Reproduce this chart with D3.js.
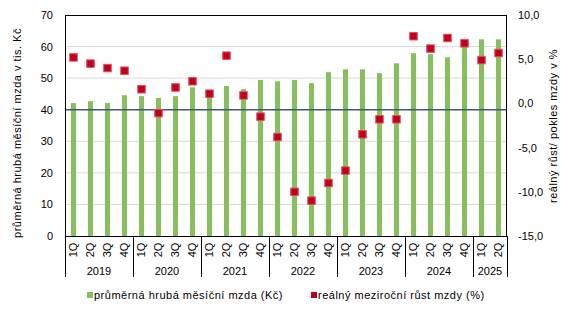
<!DOCTYPE html>
<html>
<head>
<meta charset="utf-8">
<script src="https://cdn.jsdelivr.net/npm/d3@7"></script>
<style>
  body { margin: 0; background: #fff; }
  svg { display: block; font-family: "Liberation Sans", Arial, sans-serif; }
</style>
</head>
<body>
<div id="chart"></div>
<script>
// data
const years = ["2019", "2020", "2021", "2022", "2023", "2024", "2025"]
const quarters = ["1Q", "2Q", "3Q", "4Q"]
const quarterCount = [4, 4, 4, 4, 4, 4, 2]
const wage = [42.1, 42.7, 42.1, 44.6, 44.3, 43.7, 44.3, 47.1, 44.0, 47.5, 46.5, 49.4,
  49.0, 49.4, 48.4, 51.9, 52.8, 52.8, 51.6, 54.7, 57.9, 57.6, 56.6, 60.1, 62.3, 62.3]
const realGrowth = [5.2, 4.5, 4.0, 3.7, 1.6, -1.1, 1.8, 2.5, 1.1, 5.4, 0.9, -1.5,
  -3.8, -10.0, -11.0, -9.0, -7.6, -3.5, -1.8, -1.8, 7.6, 6.2, 7.4, 6.8, 4.9, 5.7]
const leftTicks = [0, 10, 20, 30, 40, 50, 60, 70]
const rightTicks = [-15, -10, -5, 0, 5, 10]

// category keys like "2019|1Q"
const cats = []
years.forEach((y, i) => {
  for (let q = 0; q < quarterCount[i]; q++) cats.push(y + "|" + quarters[q])
})

const width = 568, height = 314
const margin = { top: 15, right: 61, bottom: 78, left: 65 }
const innerBottom = height - margin.bottom   // 236
const innerRight = width - margin.right      // 507

const barGreen = "#87bf5e"
const markerRed = "#c0001c"
const wordSpacing = "0.5px"

const x = d3.scaleBand()
  .domain(cats)
  .range([margin.left, innerRight])
  .paddingInner(0.7)
  .paddingOuter(0.35)

const yL = d3.scaleLinear().domain([0, 70]).range([innerBottom, margin.top])
const yR = d3.scaleLinear().domain([-15, 10]).range([innerBottom, margin.top])

const svg = d3.select("#chart").append("svg")
  .attr("width", width)
  .attr("height", height)

// gridlines
svg.append("g")
  .selectAll("line")
  .data(leftTicks.filter(t => t > 0 && t < 70))
  .join("line")
  .attr("x1", margin.left).attr("x2", innerRight)
  .attr("y1", d => yL(d)).attr("y2", d => yL(d))
  .attr("stroke", "#d9d9d9")
  .attr("stroke-width", 1)

// bars
svg.append("g")
  .selectAll("rect")
  .data(wage)
  .join("rect")
  .attr("x", (d, i) => x(cats[i]))
  .attr("width", x.bandwidth())
  .attr("y", d => yL(d))
  .attr("height", d => yL(0) - yL(d))
  .attr("fill", barGreen)

// the dark horizontal line across the plot
svg.append("line")
  .attr("x1", margin.left).attr("x2", innerRight)
  .attr("y1", yL(40)).attr("y2", yL(40))
  .attr("stroke", "#44597a")
  .attr("stroke-width", 1.5)

// markers
const ms = 7.5
svg.append("g")
  .selectAll("rect")
  .data(realGrowth)
  .join("rect")
  .attr("x", (d, i) => x(cats[i]) + x.bandwidth() / 2 - ms / 2)
  .attr("y", d => yR(d) - ms / 2)
  .attr("width", ms)
  .attr("height", ms)
  .attr("fill", markerRed)
  .attr("stroke", "#e0505e")
  .attr("stroke-width", 1)

// frame
svg.append("rect")
  .attr("x", margin.left + 0.5).attr("y", margin.top + 0.5)
  .attr("width", innerRight - margin.left - 1)
  .attr("height", innerBottom - margin.top)
  .attr("fill", "none")
  .attr("stroke", "#000")
  .attr("stroke-width", 1)

// left axis
const gL = svg.append("g")
  .attr("transform", `translate(${margin.left},0)`)
  .call(d3.axisLeft(yL).tickValues(leftTicks).tickSize(0).tickPadding(12))
gL.select(".domain").remove()
gL.selectAll("text").attr("font-size", 11).attr("fill", "#000")
  .attr("font-family", "Liberation Sans, Arial, sans-serif")

// right axis
const gR = svg.append("g")
  .attr("transform", `translate(${innerRight},0)`)
  .call(d3.axisRight(yR).tickValues(rightTicks).tickSize(0).tickPadding(11)
    .tickFormat(d => d3.format(".1f")(d).replace(".", ",").replace("−", "-")))
gR.select(".domain").remove()
gR.selectAll("text").attr("font-size", 11).attr("fill", "#000")
  .attr("font-family", "Liberation Sans, Arial, sans-serif")

// quarter labels (rotated)
svg.append("g")
  .selectAll("text")
  .data(cats)
  .join("text")
  .attr("transform", d => `translate(${x(d) + x.bandwidth() / 2},250) rotate(-90)`)
  .attr("text-anchor", "middle")
  .attr("dy", "0.35em")
  .attr("font-size", 11)
  .text(d => d.split("|")[1])

// year separators and labels
const step = x.step()
let start = 0
const sepXs = [margin.left]
years.forEach((y, i) => {
  const x0 = margin.left + start * step
  const x1 = margin.left + (start + quarterCount[i]) * step
  sepXs.push(x1)
  svg.append("text")
    .attr("x", (x0 + x1) / 2)
    .attr("y", 275)
    .attr("text-anchor", "middle")
    .attr("font-size", 11)
    .text(y)
  start += quarterCount[i]
})
svg.append("g")
  .selectAll("line")
  .data(sepXs)
  .join("line")
  .attr("x1", d => Math.round(d) + 0.5).attr("x2", d => Math.round(d) + 0.5)
  .attr("y1", innerBottom).attr("y2", 277)
  .attr("stroke", "#000")

// axis titles
svg.append("text")
  .attr("transform", "translate(17,133) rotate(-90)")
  .attr("text-anchor", "middle")
  .attr("dy", "0.35em")
  .attr("font-size", 11)
  .attr("letter-spacing", wordSpacing)
  .text("průměrná hrubá měsíční mzda v tis. Kč")

svg.append("text")
  .attr("transform", "translate(553,126) rotate(-90)")
  .attr("text-anchor", "middle")
  .attr("dy", "0.35em")
  .attr("font-size", 11)
  .attr("letter-spacing", wordSpacing)
  .text("reálný růst/ pokles mzdy v %")

// legend
const legend = [
  { label: "průměrná hrubá měsíční mzda (Kč)", color: barGreen, x: 87 },
  { label: "reálný meziroční růst mzdy (%)", color: markerRed, x: 311 }
]
const lg = svg.append("g").selectAll("g").data(legend).join("g")
  .attr("transform", d => `translate(${d.x},295)`)
lg.append("rect")
  .attr("x", 0).attr("y", -3)
  .attr("width", 6).attr("height", 6)
  .attr("fill", d => d.color)
lg.append("text")
  .attr("x", 7)
  .attr("dy", "0.35em")
  .attr("font-size", 11)
  .attr("letter-spacing", wordSpacing)
  .text(d => d.label)
</script>
</body>
</html>
